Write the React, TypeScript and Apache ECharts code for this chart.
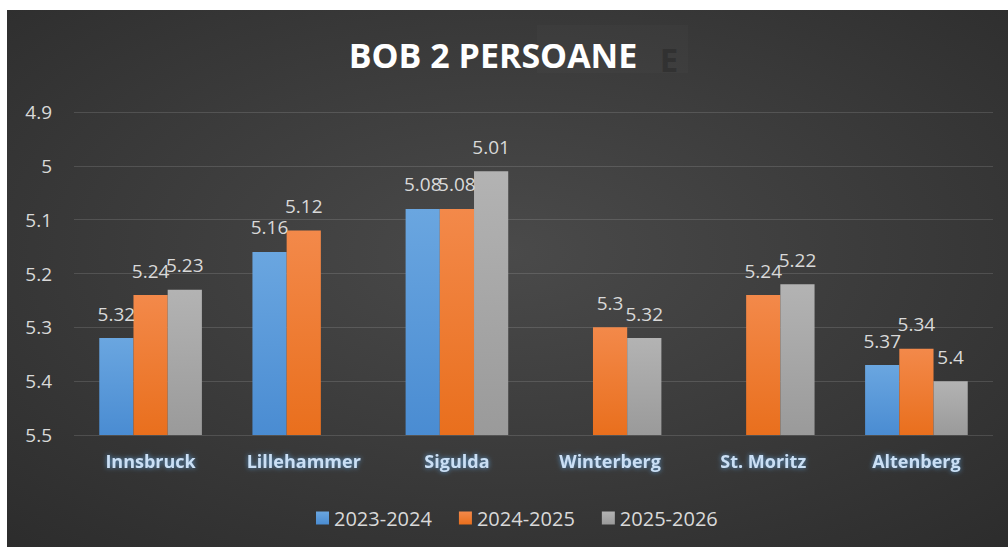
import React, { useEffect, useRef } from "react";
import * as echarts from "echarts";

const categories = ["Innsbruck", "Lillehammer", "Sigulda", "Winterberg", "St. Moritz", "Altenberg"];
const seriesNames = ["2023-2024", "2024-2025", "2025-2026"];
const values2324: (number | null)[] = [5.32, 5.16, 5.08, null, null, 5.37];
const values2425: (number | null)[] = [5.24, 5.12, 5.08, 5.3, 5.24, 5.34];
const values2526: (number | null)[] = [5.23, null, 5.01, 5.32, 5.22, 5.4];
const axisMin = 4.9;
const axisMax = 5.5;
const axisStep = 0.1;

const allValues = [values2324, values2425, values2526];
const colors = [
  ["#6aa6e0", "#4a8cd2"],
  ["#f3894a", "#e96f1d"],
  ["#b3b3b3", "#9a9a9a"],
];

const FONT = '"Open Sans", "Noto Sans", sans-serif';

export default function App() {
  const ref = useRef<HTMLDivElement>(null);
  useEffect(() => {
    if (!ref.current) return;
    const chart = echarts.init(ref.current, null, { renderer: "svg" });
    const series: any[] = [];
    allValues.forEach((vals, i) => {
      const stack = "s" + i;
      series.push({
        name: "base" + i,
        type: "bar",
        stack,
        silent: true,
        itemStyle: { color: "transparent" },
        data: vals.map((v) => (v == null ? null : v)),
        barGap: "0%",
        barCategoryGap: "33%",
      });
      series.push({
        name: seriesNames[i],
        type: "bar",
        stack,
        data: vals.map((v) => (v == null ? null : axisMax - v)),
        barGap: "0%",
        barCategoryGap: "33%",
        itemStyle: {
          color: new echarts.graphic.LinearGradient(0, 0, 0, 1, [
            { offset: 0, color: colors[i][0] },
            { offset: 1, color: colors[i][1] },
          ]),
        },
        label: {
          show: true,
          position: "top",
          distance: 15,
          color: "#d9d9d9",
          fontSize: 19,
          fontFamily: FONT,
          formatter: (p: any) => {
            const v = vals[p.dataIndex];
            return v == null ? "" : String(v);
          },
        },
      });
    });

    chart.setOption({
      animation: false,
      backgroundColor: {
        type: "radial",
        x: 0.5,
        y: 0.45,
        r: 0.75,
        colorStops: [
          { offset: 0, color: "#4a4a4a" },
          { offset: 1, color: "#2c2c2c" },
        ],
      },
      graphic: [
        {
          type: "rect",
          shape: { x: 530, y: 15, width: 151, height: 48 },
          style: { fill: "rgba(255,255,255,0.02)" },
          z: 0,
        },
        {
          type: "text",
          x: 662,
          y: 49,
          style: {
            text: "E",
            font: 'bold 33px "Open Sans", sans-serif',
            fill: "rgba(35,35,35,0.45)",
            align: "center",
            verticalAlign: "middle",
            shadowColor: "rgba(20,20,20,0.6)",
            shadowBlur: 3,
          },
          z: 1,
        },
        {
          type: "text",
          x: 486,
          y: 45,
          style: {
            text: "BOB 2 PERSOANE",
            font: 'bold 34px "Open Sans", sans-serif',
            fill: "#ffffff",
            align: "center",
            verticalAlign: "middle",
            shadowColor: "rgba(0,0,0,0.8)",
            shadowBlur: 4,
            shadowOffsetX: 2,
            shadowOffsetY: 3,
          },
          z: 2,
        },
      ],
      legend: {
        data: seriesNames,
        left: 304,
        top: 493,
        itemWidth: 13,
        itemHeight: 13,
        itemGap: 27,
        icon: "rect",
        textStyle: { color: "#d9d9d9", fontSize: 20, fontFamily: FONT },
      },
      grid: { left: 67, right: 15, top: 102, bottom: 112 },
      xAxis: {
        type: "category",
        data: categories,
        axisLine: { show: false },
        axisTick: { show: false },
        axisLabel: {
          color: "#c9dff5",
          fontSize: 18,
          fontWeight: "bold",
          fontFamily: FONT,
          margin: 17,
          textShadowColor: "rgba(91,155,213,0.9)",
          textShadowBlur: 5,
        },
      },
      yAxis: {
        type: "value",
        inverse: true,
        min: axisMin,
        max: axisMax,
        interval: axisStep,
        axisLine: { show: false },
        axisTick: { show: false },
        axisLabel: { color: "#d9d9d9", fontSize: 19, fontFamily: FONT, margin: 22 },
        splitLine: { lineStyle: { color: "rgba(255,255,255,0.13)", width: 1 } },
      },
      series,
    });
    return () => chart.dispose();
  }, []);
  return (
    <div
      ref={ref}
      style={{ position: "absolute", left: 7, top: 10, width: 1001, height: 537 }}
    />
  );
}
